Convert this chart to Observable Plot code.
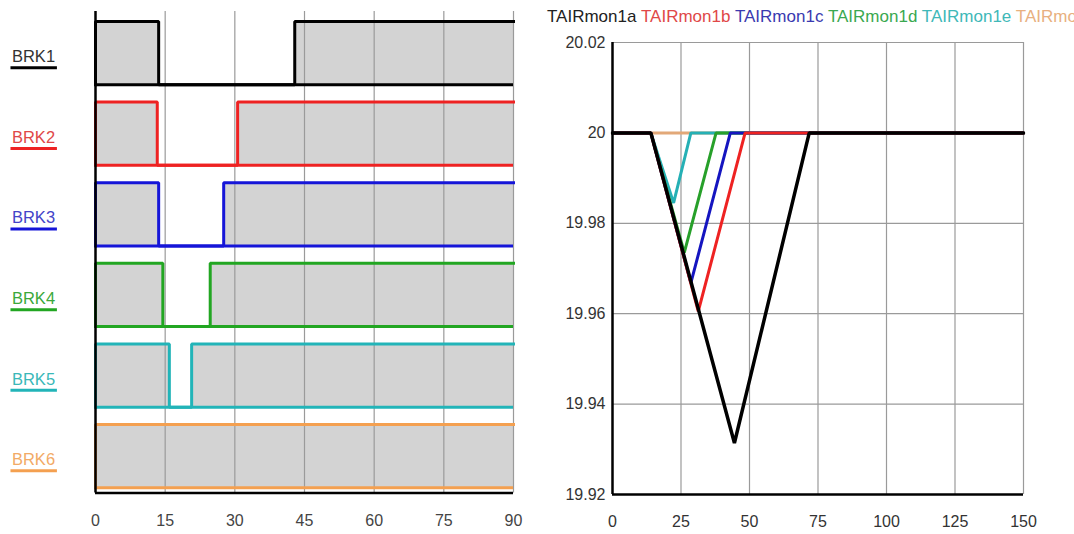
<!DOCTYPE html>
<html><head><meta charset="utf-8">
<script src="https://cdn.jsdelivr.net/npm/d3@7"></script>
<script src="https://cdn.jsdelivr.net/npm/@observablehq/plot@0.6"></script>
<style>
html,body{margin:0;padding:0;background:#fff;overflow:hidden;}
#wrap{position:relative;width:1074px;height:534px;overflow:hidden;}
#left{position:absolute;left:0;top:0;}
#right{position:absolute;left:540px;top:0;}
#legend{position:absolute;left:547px;top:8px;font:17px "Liberation Sans",Arial,sans-serif;white-space:nowrap;line-height:18px;}
#legend span{margin-right:4.5px;}
</style></head><body>
<div id="wrap"><div id="left"></div><div id="right"></div><div id="legend"></div></div>
<script>
// ---------- Left panel data: breaker states ----------
const brkNames  = ["BRK1", "BRK2", "BRK3", "BRK4", "BRK5", "BRK6"];
const brkColors = ["#000000", "#ee2222", "#1515d8", "#22a622", "#22b4b8", "#f4a050"];
const brkTextColors = ["#333333", "#e04848", "#4444c8", "#3aa83a", "#3ab8b8", "#f2aa66"];
const brkOpen  = [13.6, 13.3, 13.6, 14.5, 15.9, null];   // time breaker opens
const brkClose = [42.9, 30.6, 27.6, 24.7, 20.7, null];   // time breaker recloses
const brkTicks = [0, 15, 30, 45, 60, 75, 90];

// ---------- Right panel data: TAIRmon1a..f ----------
const tairNames  = ["TAIRmon1a", "TAIRmon1b", "TAIRmon1c", "TAIRmon1d", "TAIRmon1e", "TAIRmon1f"];
const tairColors = ["#000000", "#ee2222", "#1515c0", "#27a02a", "#25b0b5", "#e2a878"];
const tairLegendColors = ["#222222", "#e04848", "#3a3ab0", "#3aa850", "#40b8b8", "#e8b080"];
const tairT = [
  [0, 14.0, 44.5, 71.8, 150],
  [0, 14.0, 31.3, 48.4, 150],
  [0, 14.0, 28.6, 43.0, 150],
  [0, 14.0, 26.2, 37.8, 150],
  [0, 14.0, 22.3, 28.6, 150],
  [0, 150]
];
const tairV = [
  [20, 20, 19.9314, 20, 20],
  [20, 20, 19.9605, 20, 20],
  [20, 20, 19.9668, 20, 20],
  [20, 20, 19.9735, 20, 20],
  [20, 20, 19.9845, 20, 20],
  [20, 20]
];
const tairXTicks = [0, 25, 50, 75, 100, 125, 150];
const tairYTicks = [19.92, 19.94, 19.96, 19.98, 20, 20.02];

const FONT = "'Liberation Sans', Arial, sans-serif";

// ---------- build left panel ----------
const LOW = 0.065, HIGH = 0.85;   // row band within each unit
const rows = brkNames.map((name, i) => {
  const k = brkNames.length - 1 - i;
  return {name, color: brkColors[i], tcolor: brkTextColors[i], low: k + LOW, high: k + HIGH,
          open: brkOpen[i], close: brkClose[i], k};
});
const fills = [];
const steps = [];
for (const r of rows) {
  if (r.open == null) {
    fills.push({x1: 0, x2: 90, y1: r.low, y2: r.high});
    steps.push(...[[0, r.low], [0, r.high], [90, r.high]].map(([x, y]) => ({x, y, name: r.name, color: r.color})));
  } else {
    fills.push({x1: 0, x2: r.open, y1: r.low, y2: r.high});
    fills.push({x1: r.close, x2: 90, y1: r.low, y2: r.high});
    steps.push(...[[0, r.low], [0, r.high], [r.open, r.high], [r.open, r.low], [r.close, r.low], [r.close, r.high], [90, r.high]]
      .map(([x, y]) => ({x, y, name: r.name, color: r.color})));
  }
}

const left = Plot.plot({
  width: 540, height: 534,
  marginLeft: 95, marginRight: 27, marginTop: 11, marginBottom: 41.5,
  style: {fontFamily: FONT, fontSize: "16px", color: "#444", background: "#fff"},
  x: {domain: [0, 90], ticks: brkTicks, tickSize: 0, tickPadding: 22, label: null},
  y: {domain: [0, 5.974], axis: null},
  color: {type: "identity"},
  marks: [
    Plot.rect(fills, {x1: "x1", x2: "x2", y1: "y1", y2: "y2", fill: "#d3d3d3"}),
    Plot.ruleX(brkTicks.slice(1), {stroke: "#9a9a9a", strokeWidth: 1.2}),
    Plot.ruleY(rows, {y: "low", x1: 0, x2: 90, stroke: "color", strokeWidth: 3}),
    Plot.line(steps, {x: "x", y: "y", z: "name", stroke: "color", strokeWidth: 3, strokeLinejoin: "miter", strokeLinecap: "square"}),
    Plot.ruleX([0], {stroke: "#000", strokeWidth: 2.5}),
    Plot.ruleY([0], {stroke: "#000", strokeWidth: 2.5}),
    Plot.text(rows, {y: d => d.k + 0.41, text: "name", fill: "tcolor", frameAnchor: "left", dx: -62, textAnchor: "middle", fontSize: 16.5}),
    Plot.ruleY(rows, {y: d => d.k + 0.275, x1: -18.2, x2: -8.2, stroke: "color", strokeWidth: 3, clip: false})
  ]
});
document.getElementById("left").appendChild(left);

// ---------- build right panel ----------
const tairData = [];
tairNames.forEach((name, i) => {
  tairT[i].forEach((t, j) => tairData.push({t, v: tairV[i][j], name, color: tairColors[i], order: i}));
});
const drawOrder = tairNames.slice().reverse();

const right = Plot.plot({
  width: 534, height: 534,
  marginLeft: 72, marginRight: 51, marginTop: 42, marginBottom: 40,
  style: {fontFamily: FONT, fontSize: "16px", color: "#333", background: "transparent"},
  x: {domain: [0, 150], ticks: tairXTicks, tickSize: 0, tickPadding: 21, label: null},
  y: {domain: [19.92, 20.02], ticks: tairYTicks, tickSize: 0, tickPadding: 7, label: null,
      tickFormat: d => String(+d.toFixed(2))},
  color: {type: "identity"},
  marks: [
    Plot.ruleX(tairXTicks.slice(1), {stroke: "#9a9a9a", strokeWidth: 1.2}),
    Plot.ruleY(tairYTicks.slice(1), {stroke: "#9a9a9a", strokeWidth: 1.2}),
    ...drawOrder.map(n => Plot.line(tairData.filter(d => d.name === n),
      {x: "t", y: "v", stroke: "color", strokeWidth: n === "TAIRmon1a" ? 3.5 : 3, strokeLinejoin: "miter"})),
    Plot.ruleX([0], {stroke: "#000", strokeWidth: 2.5}),
    Plot.ruleY([19.92], {stroke: "#000", strokeWidth: 2.5})
  ]
});
document.getElementById("right").appendChild(right);

// ---------- legend ----------
const lg = document.getElementById("legend");
tairNames.forEach((n, i) => {
  const s = document.createElement("span");
  s.textContent = n;
  s.style.color = tairLegendColors[i];
  lg.appendChild(s);
});
</script>
</body></html>
